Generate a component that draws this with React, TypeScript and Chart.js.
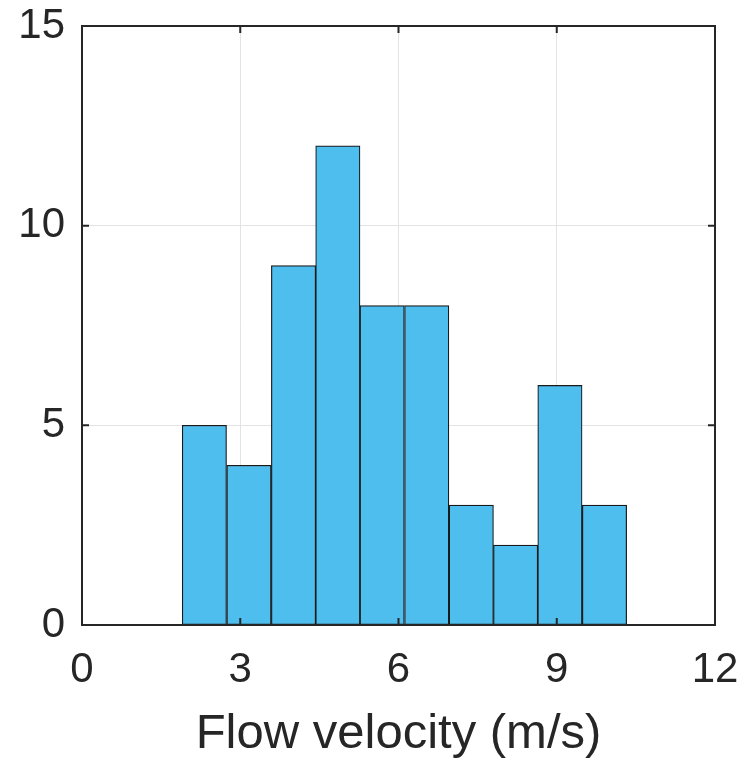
import React, { useEffect, useRef } from "react";
import { Chart, registerables } from "chart.js";

Chart.register(...registerables);

const binEdges = [1.9, 2.74, 3.59, 4.43, 5.27, 6.11, 6.96, 7.8, 8.64, 9.48, 10.33];
const counts = [5, 4, 9, 12, 8, 8, 3, 2, 6, 3];
const xTicks = [0, 3, 6, 9, 12];
const yTicks = [0, 5, 10, 15];
const xLabel = "Flow velocity (m/s)";

const W = 743;
const H = 762;
const AXIS = "#262626";

const boxPlugin = {
  id: "matlabBox",
  afterDatasetsDraw(chart: any) {
    const { ctx, chartArea: a, scales } = chart;
    ctx.save();
    ctx.strokeStyle = AXIS;
    ctx.lineWidth = 2;
    ctx.strokeRect(a.left, a.top, a.right - a.left, a.bottom - a.top);
    const tl = 7;
    ctx.beginPath();
    xTicks.forEach((t) => {
      const px = scales.x.getPixelForValue(t);
      ctx.moveTo(px, a.bottom);
      ctx.lineTo(px, a.bottom - tl);
      ctx.moveTo(px, a.top);
      ctx.lineTo(px, a.top + tl);
    });
    yTicks.forEach((t) => {
      const py = scales.y.getPixelForValue(t);
      ctx.moveTo(a.left, py);
      ctx.lineTo(a.left + tl, py);
      ctx.moveTo(a.right, py);
      ctx.lineTo(a.right - tl, py);
    });
    ctx.stroke();
    ctx.restore();
  },
};

export default function App() {
  const ref = useRef<HTMLCanvasElement>(null);
  useEffect(() => {
    if (!ref.current) return;
    const centers = counts.map((_, i) => (binEdges[i] + binEdges[i + 1]) / 2);
    const chart = new Chart(ref.current, {
      type: "bar",
      data: {
        datasets: [
          {
            data: counts.map((c, i) => ({ x: centers[i], y: c })),
            backgroundColor: "#4DBEEE",
            borderColor: "#1a1a1a",
            borderWidth: 1.2,
            borderSkipped: false,
            barPercentage: 1,
            categoryPercentage: 1,
          } as any,
        ],
      },
      options: {
        animation: false,
        responsive: false,
        layout: { padding: { top: 26, right: 28, left: 0, bottom: 0 } },
        plugins: { legend: { display: false }, tooltip: { enabled: false } },
        scales: {
          x: {
            type: "linear",
            min: 0,
            max: 12,
            offset: false,
            afterBuildTicks: (s: any) => {
              s.ticks = xTicks.map((v) => ({ value: v }));
            },
            afterFit: (s: any) => {
              s.height = 137;
              s.paddingLeft = 0;
              s.paddingRight = 0;
              s.paddingTop = 0;
              s.paddingBottom = 0;
            },
            grid: { color: "#e3e3e3", lineWidth: 1, drawTicks: false, offset: false },
            border: { display: false },
            ticks: {
              padding: 20,
              color: AXIS,
              font: { family: "Liberation Sans, Arial, sans-serif", size: 42 },
              maxRotation: 0,
            },
            title: {
              display: true,
              text: xLabel,
              color: AXIS,
              font: { family: "Liberation Sans, Arial, sans-serif", size: 49, lineHeight: 1 },
              padding: { top: 0, bottom: 3.5 },
            },
          },
          y: {
            type: "linear",
            min: 0,
            max: 15,
            afterBuildTicks: (s: any) => {
              s.ticks = yTicks.map((v) => ({ value: v }));
            },
            afterFit: (s: any) => {
              s.width = 82;
              s.paddingLeft = 0;
              s.paddingRight = 0;
              s.paddingTop = 0;
              s.paddingBottom = 0;
            },
            grid: { color: "#e3e3e3", lineWidth: 1, drawTicks: false },
            border: { display: false },
            ticks: {
              padding: 17,
              color: AXIS,
              font: { family: "Liberation Sans, Arial, sans-serif", size: 42 },
            },
          },
        },
      },
      plugins: [boxPlugin],
    } as any);
    return () => chart.destroy();
  }, []);
  return (
    <div style={{ position: "absolute", left: 0, top: 0, width: W, height: H, background: "#fff" }}>
      <canvas ref={ref} width={W} height={H} style={{ width: W, height: H, display: "block" }} />
    </div>
  );
}
